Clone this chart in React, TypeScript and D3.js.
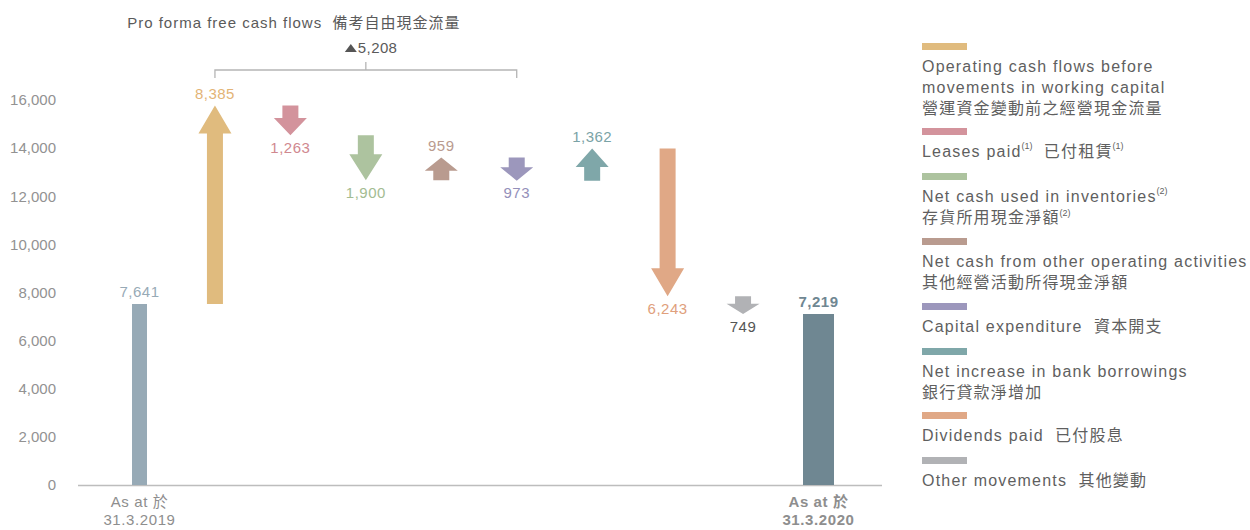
import React from "react";
import * as d3 from "d3";

const categories = ["start", "operating", "leases", "inventories", "otherOp", "capex", "bank", "dividends", "other", "end"];
const values = [7641, 8385, -1263, -1900, 959, -973, 1362, -6243, -749, 7219];
const valueLabels = ["7,641", "8,385", "1,263", "1,900", "959", "973", "1,362", "6,243", "749", "7,219"];
const colors = ["#97aab6", "#e0bb7e", "#d3939c", "#adc39f", "#b99b8f", "#9c97bc", "#7fa7a9", "#e0a886", "#b1b2b5", "#6f8792"];
const labelColors = ["#97aab6", "#e3b476", "#d0888f", "#a3bc92", "#b99b8f", "#948fba", "#7aa3a6", "#e0a07c", "#555555", "#6f8792"];
const yTicks = [0, 2000, 4000, 6000, 8000, 10000, 12000, 14000, 16000];
const bracketTitle = "Pro forma free cash flows\u00a0\u00a0備考自由現金流量";
const bracketValue = "5,208";
const bracketFrom = "operating";
const bracketTo = "capex";
const startLabel = ["As at 於", "31.3.2019"];
const endLabel = ["As at 於", "31.3.2020"];

type Line = { text: string; sup?: string; text2?: string; sup2?: string };
const legendColors = ["#e0bb7e", "#d3939c", "#adc39f", "#b99b8f", "#9c97bc", "#7fa7a9", "#e0a886", "#b1b2b5"];
const legendItems: Line[][] = [
  [{ text: "Operating cash flows before" }, { text: "movements in working capital" }, { text: "營運資金變動前之經營現金流量" }],
  [{ text: "Leases paid", sup: "(1)", text2: "\u00a0\u00a0已付租賃", sup2: "(1)" }],
  [{ text: "Net cash used in inventories", sup: "(2)" }, { text: "存貨所用現金淨額", sup: "(2)" }],
  [{ text: "Net cash from other operating activities" }, { text: "其他經營活動所得現金淨額" }],
  [{ text: "Capital expenditure\u00a0\u00a0資本開支" }],
  [{ text: "Net increase in bank borrowings" }, { text: "銀行貸款淨增加" }],
  [{ text: "Dividends paid\u00a0\u00a0已付股息" }],
  [{ text: "Other movements\u00a0\u00a0其他變動" }],
];

const FONT = "'Liberation Sans', Arial, 'Noto Sans CJK TC', sans-serif";

export default function App() {
  const width = 1250;
  const height = 530;
  const x = d3.scalePoint<string>().domain(categories).range([139.5, 818.5]);
  // axis scale
  const y = d3.scaleLinear().domain([0, 16000]).range([485, 100]);
  // marks scale (the original artwork draws marks slightly compressed vs. the axis)
  const ym = d3.scaleLinear().domain([0, 16000]).range([485, 106]);

  let running = 0;
  const items = categories.map((c, i) => {
    const v = values[i];
    let y0: number, y1: number, kind: string;
    if (i === 0 || i === categories.length - 1) {
      kind = "bar";
      y0 = 0;
      y1 = v;
      running = v;
    } else {
      kind = "arrow";
      y0 = running;
      y1 = running + v;
      running = y1;
    }
    return { c, i, v, y0, y1, kind };
  });

  const arrowPath = (cx: number, py0: number, py1: number) => {
    const len = Math.abs(py1 - py0);
    const h = Math.min(28, len * 0.58);
    const dir = py1 < py0 ? 1 : -1;
    const sw = 8;
    const hw = 16.5;
    const hb = py1 + dir * h;
    return `M${cx - sw},${py0} L${cx - sw},${hb} L${cx - hw},${hb} L${cx},${py1} L${cx + hw},${hb} L${cx + sw},${hb} L${cx + sw},${py0} Z`;
  };

  const bx0 = x(bracketFrom)!;
  const bx1 = x(bracketTo)!;
  const bmid = (bx0 + bx1) / 2;

  const swatchYs = [43, 128, 173, 238, 303, 348, 412, 457];
  const legendLayout = legendItems.map((lines, k) => ({
    swatchY: swatchYs[k],
    color: legendColors[k],
    lines: lines.map((line, j) => ({ y: swatchYs[k] + 23 + j * 21.3, line })),
  }));

  return (
    <svg width={width} height={height} style={{ position: "absolute", left: 0, top: 0, fontFamily: FONT }}>
      <rect width={width} height={height} fill="#ffffff" />
      {yTicks.map((t) => (
        <text key={t} x={56} y={y(t)} dy="0.35em" textAnchor="end" fontSize={15} fill="#929292">
          {d3.format(",")(t)}
        </text>
      ))}
      <line x1={78} x2={882} y1={y(0) + 0.5} y2={y(0) + 0.5} stroke="#bdbdbd" strokeWidth={1.5} />

      {items.map((d) => {
        const cx = x(d.c)!;
        if (d.kind === "bar") {
          const w = d.i === 0 ? 15 : 31;
          return (
            <rect key={d.c} x={cx - w / 2} y={ym(d.y1)} width={w} height={ym(0) - ym(d.y1)} fill={colors[d.i]} />
          );
        }
        return <path key={d.c} d={arrowPath(cx, ym(d.y0), ym(d.y1))} fill={colors[d.i]} />;
      })}

      {items.map((d) => {
        const cx = x(d.c)!;
        let ty: number;
        if (d.kind === "bar") {
          ty = ym(d.y1) - 12;
        } else if (d.v > 0) {
          ty = ym(d.y1) - 11.5;
        } else {
          ty = ym(d.y1) + 12.5;
        }
        const bold = d.i === categories.length - 1;
        return (
          <text
            key={"l" + d.c}
            x={cx}
            y={ty}
            dy="0.35em"
            textAnchor="middle"
            fontSize={15}
            letterSpacing={0.5}
            fontWeight={bold ? 700 : 400}
            fill={labelColors[d.i]}
          >
            {valueLabels[d.i]}
          </text>
        );
      })}

      <text x={bmid - 72} y={23} dy="0.35em" textAnchor="middle" fontSize={15} letterSpacing={1} fill="#5a5a5a">
        {bracketTitle}
      </text>
      <path d={`M${bmid - 21},${52} L${bmid - 15},${44} L${bmid - 9},${52} Z`} fill="#555" />
      <text x={bmid - 8} y={48} dy="0.35em" textAnchor="start" fontSize={15} letterSpacing={0.4} fill="#5a5a5a">
        {bracketValue}
      </text>
      <path
        d={`M${bx0},${78} L${bx0},${70} L${bx1},${70} L${bx1},${78} M${bmid},${70} L${bmid},${62}`}
        fill="none"
        stroke="#b5b5b5"
        strokeWidth={1.3}
      />

      {startLabel.map((t, j) => (
        <text key={"s" + j} x={x("start")!} y={502 + j * 17.5} dy="0.35em" textAnchor="middle" fontSize={15} letterSpacing={0.6} fill="#8e8e8e">
          {t}
        </text>
      ))}
      {endLabel.map((t, j) => (
        <text key={"e" + j} x={x("end")!} y={502 + j * 17.5} dy="0.35em" textAnchor="middle" fontSize={15} letterSpacing={0.6} fontWeight={700} fill="#8e8e8e">
          {t}
        </text>
      ))}

      {legendLayout.map((it, k) => (
        <g key={"lg" + k}>
          <rect x={922} y={it.swatchY} width={45} height={7} fill={it.color} />
          {it.lines.map(({ y: ly2, line }, j) => (
            <text key={j} x={922} y={ly2} dy="0.35em" fontSize={16} letterSpacing={1.2} fill="#5f5f5f">
              {line.text}
              {line.sup && (
                <tspan fontSize={9} letterSpacing={0} dy="-0.8em">
                  {line.sup}
                </tspan>
              )}
              {line.text2 && (
                <tspan fontSize={16} dy={line.sup ? "0.45em" : 0}>
                  {line.text2}
                </tspan>
              )}
              {line.sup2 && (
                <tspan fontSize={9} letterSpacing={0} dy="-0.8em">
                  {line.sup2}
                </tspan>
              )}
            </text>
          ))}
        </g>
      ))}
    </svg>
  );
}
